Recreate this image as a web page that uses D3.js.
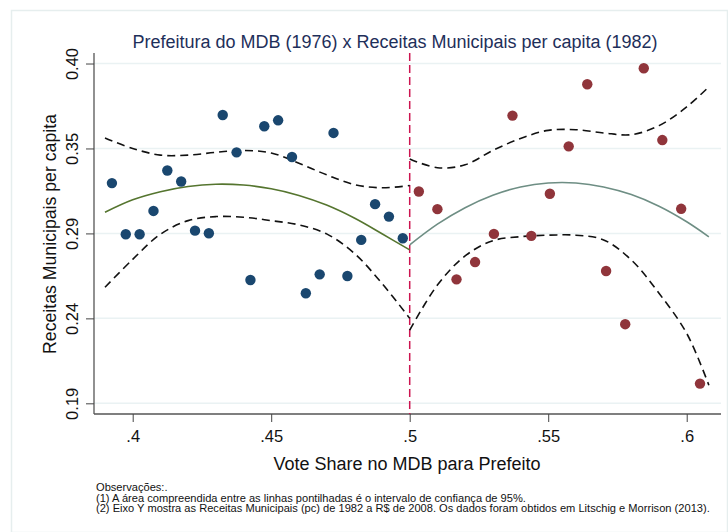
<!DOCTYPE html>
<html>
<head>
<meta charset="utf-8">
<script src="https://cdn.jsdelivr.net/npm/d3@7"></script>
<style>
  body { margin: 0; background: #fff; }
  text { font-family: "Liberation Sans", Arial, sans-serif; }
</style>
</head>
<body>
<div id="chart"></div>
<script>
// ---- data ----
var leftX  = [0.3925,0.3975,0.4025,0.4075,0.4125,0.4175,0.4225,0.4275,0.4325,0.4375,0.4425,
              0.4475,0.4525,0.4575,0.4625,0.4675,0.4725,0.4775,0.4825,0.4875,0.4925,0.4975];
var leftY  = [0.3261,0.2945,0.2945,0.3089,0.3339,0.3271,0.2967,0.2951,0.3682,0.3451,0.2662,
              0.3612,0.3649,0.3422,0.2580,0.2697,0.3571,0.2687,0.2910,0.3131,0.3054,0.2920];
var rightX = [0.5033,0.5100,0.5169,0.5236,0.5304,0.5371,0.5439,0.5506,
              0.5574,0.5641,0.5709,0.5778,0.5845,0.5912,0.5980,0.6048];
var rightY = [0.3209,0.3100,0.2666,0.2773,0.2947,0.3678,0.2935,0.3195,
              0.3488,0.3872,0.2718,0.2389,0.3971,0.3527,0.3102,0.2022];

// fitted curve and 95% band
var fitLeftX  = [0.39,0.40,0.41,0.42,0.43,0.44,0.45,0.46,0.47,0.48,0.49,0.50];
var fitLeft   = [0.3081,0.3158,0.3208,0.3240,0.3254,0.3249,0.3226,0.3185,0.3125,0.3045,0.2948,0.2848];
var ciLeftHi  = [0.3540,0.3475,0.3434,0.3434,0.3451,0.3463,0.3447,0.3384,0.3312,0.3252,0.3232,0.3246];
var ciLeftLo  = [0.2617,0.2790,0.2945,0.3029,0.3054,0.3050,0.3029,0.3003,0.2947,0.2827,0.2641,0.2425];

var fitRightX = [0.50,0.51,0.52,0.53,0.54,0.55,0.56,0.57,0.58,0.59,0.60,0.608];
var fitRight  = [0.2879,0.3007,0.3109,0.3186,0.3237,0.3262,0.3262,0.3237,0.3190,0.3118,0.3022,0.2929];
var ciRightHi = [0.3410,0.3356,0.3374,0.3463,0.3537,0.3587,0.3591,0.3571,0.3560,0.3616,0.3732,0.3856];
var ciRightLo = [0.2352,0.2631,0.2811,0.2905,0.2930,0.2939,0.2939,0.2910,0.2786,0.2580,0.2332,0.2012];

var yTicks      = [0.19,0.2425,0.295,0.3475,0.40];
var yTickLabels = ["0.19","0.24","0.29","0.35","0.40"];
var xTicks      = [0.4,0.45,0.5,0.55,0.6];
var xTickLabels = [".4",".45",".5",".55",".6"];
var cutoff = 0.5;

var title  = "Prefeitura do MDB (1976) x Receitas Municipais per capita (1982)";
var xTitle = "Vote Share no MDB para Prefeito";
var yTitle = "Receitas Municipais per capita";
var notes  = ["Observações:.",
              "(1) A área compreendida entre as linhas pontilhadas é o intervalo de confiança de 95%.",
              "(2) Eixo Y mostra as Receitas Municipais (pc) de 1982 a R$ de 2008. Os dados foram obtidos em Litschig e Morrison (2013)."];

// ---- layout ----
var W = 728, H = 532;
var plotL = 94, plotR = 721, plotT = 53, plotB = 414;

var x = d3.scaleLinear().domain([0.38603,0.61238]).range([plotL,plotR]);
var y = d3.scaleLinear().domain([0.1834,0.4065]).range([plotB,plotT]);

var svg = d3.select("#chart").append("svg")
  .attr("width",W).attr("height",H);

// outer frame
svg.append("rect")
  .attr("x",11.5).attr("y",10.5).attr("width",W-12).attr("height",H-10)
  .attr("fill","#fff").attr("stroke","#e6eeee").attr("stroke-width",1.5);

// gridlines
svg.append("g").selectAll("line")
  .data(yTicks).enter().append("line")
  .attr("x1",plotL).attr("x2",plotR)
  .attr("y1",function(d){return y(d)}).attr("y2",function(d){return y(d)})
  .attr("stroke","#eaf2f3").attr("stroke-width",1.5);

// y axis
var yAxis = d3.axisLeft(y).tickValues(yTicks).tickSize(8).tickPadding(6)
  .tickFormat(function(d,i){return yTickLabels[i]});
var gy = svg.append("g").attr("transform","translate("+plotL+",0)").call(yAxis);
gy.select(".domain").attr("d","M0,"+plotT+"V"+plotB).attr("stroke","#555").attr("stroke-width",1.3);
gy.selectAll(".tick line").attr("stroke","#444");
gy.selectAll(".tick text")
  .attr("transform","rotate(-90)")
  .attr("x",0).attr("y",-16).attr("dy","0")
  .attr("text-anchor","middle")
  .attr("font-size",16.5).attr("fill","#111");

// x axis
var xAxis = d3.axisBottom(x).tickValues(xTicks).tickSize(8).tickPadding(8)
  .tickFormat(function(d,i){return xTickLabels[i]});
var gx = svg.append("g").attr("transform","translate(0,"+plotB+")").call(xAxis);
gx.select(".domain").attr("d","M"+plotL+",0H"+plotR).attr("stroke","#555").attr("stroke-width",1.3);
gx.selectAll(".tick line").attr("stroke","#444");
gx.selectAll(".tick text").attr("font-size",16.5).attr("fill","#111");

// cutoff line
svg.append("line")
  .attr("x1",x(cutoff)).attr("x2",x(cutoff))
  .attr("y1",plotT).attr("y2",plotB)
  .attr("stroke","#cc1450").attr("stroke-width",1.5)
  .attr("stroke-dasharray","8,4");

// curves
var line = d3.line().curve(d3.curveCatmullRom)
  .x(function(d){return x(d[0])}).y(function(d){return y(d[1])});

function drawCurve(xs,ys,color,dash,width){
  svg.append("path")
    .attr("d",line(d3.zip(xs,ys)))
    .attr("fill","none").attr("stroke",color)
    .attr("stroke-width",width)
    .attr("stroke-dasharray",dash);
}
drawCurve(fitLeftX,ciLeftHi,"#111","8,5",1.6);
drawCurve(fitLeftX,ciLeftLo,"#111","8,5",1.6);
drawCurve(fitRightX,ciRightHi,"#111","8,5",1.6);
drawCurve(fitRightX,ciRightLo,"#111","8,5",1.6);
drawCurve(fitLeftX,fitLeft,"#55752f",null,1.6);
drawCurve(fitRightX,fitRight,"#6e8e84",null,1.6);

// points
svg.append("g").selectAll("circle")
  .data(d3.zip(leftX,leftY)).enter().append("circle")
  .attr("cx",function(d){return x(d[0])}).attr("cy",function(d){return y(d[1])})
  .attr("r",5.2).attr("fill","#1a476f");
svg.append("g").selectAll("circle")
  .data(d3.zip(rightX,rightY)).enter().append("circle")
  .attr("cx",function(d){return x(d[0])}).attr("cy",function(d){return y(d[1])})
  .attr("r",5.2).attr("fill","#90353b");

// titles
svg.append("text")
  .attr("x",395).attr("y",48).attr("text-anchor","middle")
  .attr("font-size",18).attr("fill","#1e2f5a").text(title);

svg.append("text")
  .attr("x",407).attr("y",470).attr("text-anchor","middle")
  .attr("font-size",18).attr("fill","#111").text(xTitle);

svg.append("text")
  .attr("transform","translate(56,234) rotate(-90)")
  .attr("text-anchor","middle")
  .attr("font-size",17.7).attr("fill","#111").text(yTitle);

// notes
svg.append("g").selectAll("text")
  .data(notes).enter().append("text")
  .attr("x",96).attr("y",function(d,i){return 491+i*10.5})
  .attr("font-size",11.1).attr("fill","#111")
  .text(function(d){return d});
</script>
</body>
</html>
